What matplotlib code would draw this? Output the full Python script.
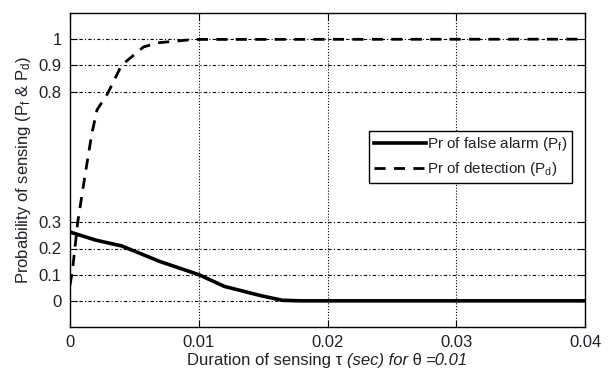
import matplotlib
matplotlib.use("Agg")
import matplotlib.pyplot as plt
from matplotlib.offsetbox import AnchoredOffsetbox, HPacker, TextArea

plt.rcParams["font.family"] = ["Liberation Sans", "DejaVu Sans"]
plt.rcParams["mathtext.fontset"] = "custom"
plt.rcParams["mathtext.rm"] = "Liberation Sans"
plt.rcParams["mathtext.it"] = "Liberation Sans:italic"

# sensing duration (s) and probabilities
tau_pf = [0, 0.002, 0.004, 0.007, 0.010, 0.012, 0.0148, 0.0165, 0.018, 0.04]
pf = [0.263, 0.232, 0.21, 0.15, 0.10, 0.055, 0.02, 0.002, 0.0, 0.0]

tau_pd = [0, 0.0002, 0.0006, 0.0012, 0.0017, 0.0021, 0.0029, 0.004, 0.0057, 0.0068, 0.0096, 0.04]
pd_ = [0.06, 0.12, 0.30, 0.49, 0.64, 0.73, 0.79, 0.90, 0.97, 0.986, 0.999, 1.0]

xticks = [0, 0.01, 0.02, 0.03, 0.04]
xticklabels = ["0", "0.01", "0.02", "0.03", "0.04"]
yticks = [0, 0.1, 0.2, 0.3, 0.8, 0.9, 1.0]
yticklabels = ["0", "0.1", "0.2", "0.3", "0.8", "0.9", "1"]

txt = "#202028"

fig = plt.figure(figsize=(6.12, 3.70), dpi=100)
ax = fig.add_axes([70 / 612, 1 - 327 / 370, 515 / 612, 314 / 370])

for y in yticks:
    ax.axhline(y, color="black", lw=0.8, ls=(0, (3, 2, 1, 2)), zorder=1)
for x in xticks[1:-1]:
    ax.axvline(x, color="black", lw=0.8, ls=(0, (1, 1.6)), zorder=1)

ax.plot(tau_pf, pf, color="black", lw=2.6, ls="-", label=r"Pr of false alarm (P$_\mathregular{f}$)", zorder=3)
ax.plot(tau_pd, pd_, color="black", lw=2.0, ls=(0, (4, 3)), label=r"Pr of detection (P$_\mathregular{d}$)", zorder=3)

ax.set_xlim(0, 0.04)
ax.set_ylim(-0.1, 1.1)
ax.set_xticks(xticks, xticklabels)
ax.set_yticks(yticks, yticklabels)
ax.tick_params(direction="in", top=True, right=True, length=5, width=0.8,
               labelsize=12, labelcolor=txt, pad=6)
for s in ax.spines.values():
    s.set_linewidth(1.0)

# x label: mixed upright / italic pieces
parts = [("Duration of sensing \u03c4 ", "normal"), ("(sec) for", "italic"),
         (" \u03b8 ", "normal"), ("=0.01", "italic")]
boxes = [TextArea(s, textprops=dict(fontsize=12, color=txt, style=st)) for s, st in parts]
label = AnchoredOffsetbox(loc="upper center", child=HPacker(children=boxes, pad=0, sep=0),
                          bbox_to_anchor=(0.5, -0.082), bbox_transform=ax.transAxes,
                          frameon=False, pad=0, borderpad=0)
ax.add_artist(label)

ax.set_ylabel(r"Probability of sensing (P$_\mathregular{f}$ & P$_\mathregular{d}$)",
              fontsize=12, color=txt, labelpad=4)

leg = ax.legend(loc="upper right", bbox_to_anchor=(0.975, 0.625), fontsize=11,
                frameon=True, fancybox=False, edgecolor="black", framealpha=1,
                handlelength=3.4, handletextpad=0.1, borderpad=0.3, labelspacing=0.45,
                borderaxespad=0)
leg.get_frame().set_linewidth(1.0)
for t in leg.get_texts():
    t.set_color(txt)

fig.savefig("out.png", dpi=100)
